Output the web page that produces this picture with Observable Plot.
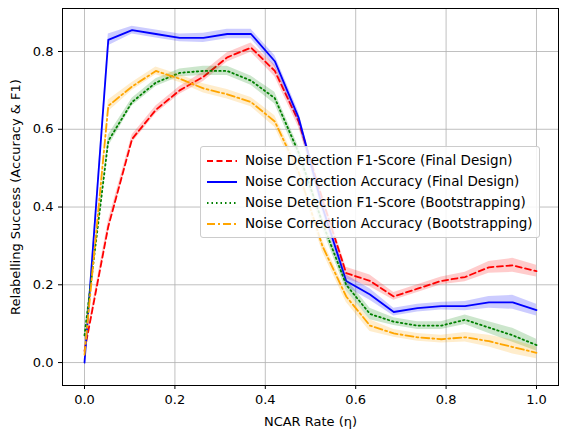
<!DOCTYPE html>
<html><head><meta charset="utf-8">
<script src="https://cdn.jsdelivr.net/npm/d3@7"></script>
<script src="https://cdn.jsdelivr.net/npm/@observablehq/plot@0.6"></script>
<style>
body{margin:0;background:#fff;font-family:"DejaVu Sans",sans-serif;}
#wrap{position:relative;width:567px;height:432px;}
#legend{position:absolute;left:200px;top:146px;border:1px solid #ccc;border-radius:3px;background:rgba(255,255,255,0.85);padding:3px 6px;font-size:13.5px;line-height:21px;}
#legend div{display:flex;align-items:center;white-space:nowrap;}
#legend svg{margin-right:8px;}
</style></head><body>
<div id="wrap"><div id="chart"></div>
<div id="legend"></div></div>
<script>
const eta = d3.range(20).map(i => i/19);
const f1Final = [0.03,0.35,0.575,0.65,0.70,0.735,0.785,0.81,0.75,0.62,0.42,0.23,0.21,0.17,0.19,0.21,0.22,0.245,0.25,0.235];
const accFinal = [0.0,0.83,0.855,0.845,0.835,0.835,0.845,0.845,0.775,0.63,0.40,0.21,0.175,0.13,0.14,0.145,0.145,0.155,0.155,0.135];
const f1Boot = [0.07,0.57,0.67,0.72,0.745,0.75,0.75,0.725,0.68,0.54,0.36,0.20,0.125,0.105,0.095,0.095,0.11,0.09,0.07,0.045];
const accBoot = [0.02,0.66,0.71,0.75,0.73,0.705,0.69,0.67,0.62,0.49,0.30,0.17,0.095,0.075,0.065,0.06,0.065,0.055,0.04,0.025];
const bandHalf = [0.01,0.015,0.01,0.01,0.01,0.012,0.012,0.012,0.015,0.015,0.015,0.015,0.015,0.01,0.01,0.01,0.012,0.015,0.018,0.015];
const names = ["Noise Detection F1-Score (Final Design)","Noise Correction Accuracy (Final Design)","Noise Detection F1-Score (Bootstrapping)","Noise Correction Accuracy (Bootstrapping)"];
const series = [
 {name:names[0], v:f1Final, color:"red", dash:"6,3.5"},
 {name:names[1], v:accFinal, color:"blue", dash:null},
 {name:names[2], v:f1Boot, color:"green", dash:"1.5,3"},
 {name:names[3], v:accBoot, color:"orange", dash:"8,3,2,3"}
];
const marks = [
  Plot.gridX([0,0.2,0.4,0.6,0.8,1.0],{stroke:"#b0b0b0",strokeOpacity:1,strokeWidth:0.8}),
  Plot.gridY([0,0.2,0.4,0.6,0.8],{stroke:"#b0b0b0",strokeOpacity:1,strokeWidth:0.8})
];
for (const s of series) {
  const data = eta.map((x,i)=>({x, y:s.v[i], lo:s.v[i]-bandHalf[i], hi:s.v[i]+bandHalf[i]}));
  marks.push(Plot.areaY(data,{x:"x",y1:"lo",y2:"hi",fill:s.color,fillOpacity:0.2}));
  marks.push(Plot.line(data,{x:"x",y:"y",stroke:s.color,strokeWidth:1.8,strokeDasharray:s.dash}));
}
marks.push(Plot.frame({stroke:"black",strokeWidth:1}));
const chart = Plot.plot({
  width:567,height:432,marginLeft:62,marginRight:9,marginTop:8,marginBottom:47,
  style:{fontFamily:"DejaVu Sans",fontSize:"13px",color:"black",background:"white"},
  x:{domain:[-0.0487,1.0487],ticks:[0,0.2,0.4,0.6,0.8,1.0],tickFormat:d3.format(".1f"),label:"NCAR Rate (η)",labelAnchor:"center",labelArrow:"none",labelOffset:40,tickSize:4},
  y:{domain:[-0.059,0.9106],ticks:[0,0.2,0.4,0.6,0.8],tickFormat:d3.format(".1f"),label:"Relabelling Success (Accuracy & F1)",labelAnchor:"center",labelArrow:"none",labelOffset:52,tickSize:4},
  marks
});
document.getElementById("chart").appendChild(chart);
const leg = document.getElementById("legend");
for (const s of series) {
  const d = document.createElement("div");
  d.innerHTML = `<svg width="30" height="10"><line x1="0" x2="30" y1="5" y2="5" stroke="${s.color}" stroke-width="2" ${s.dash?`stroke-dasharray="${s.dash}"`:""}/></svg><span>${s.name}</span>`;
  leg.appendChild(d);
}
</script></body></html>
